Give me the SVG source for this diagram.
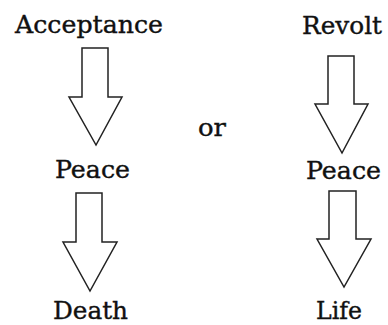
<svg xmlns="http://www.w3.org/2000/svg" width="388" height="325" viewBox="0 0 388 325">
<style>
.t{font-family:"DejaVu Serif","Liberation Serif",serif;font-size:25px;fill:#111;stroke:#111;stroke-width:0.4;}
.a{fill:#fff;stroke:#222;stroke-width:1.5;stroke-linejoin:miter;}
</style>
<rect width="388" height="325" fill="#fff"/>
<g id="connectors">
<polygon class="a" points="82,48 108,48 108,97 122,97 96,145 69,97 82,97"/>
<polygon class="a" points="76,193 102,193 102,242 117,242 90,291 63,242 76,242"/>
<polygon class="a" points="328,56 354,56 354,104 368,104 342,153 315,104 328,104"/>
<polygon class="a" points="329,191 356,191 356,239 371,239 344,287 317,239 329,239"/>
</g>
<g id="acceptance"><text class="t" x="15" y="33" textLength="148" lengthAdjust="spacingAndGlyphs">Acceptance</text></g>
<g id="peace-left"><text class="t" x="55" y="178" textLength="75" lengthAdjust="spacingAndGlyphs">Peace</text></g>
<g id="death"><text class="t" x="53" y="319" textLength="75" lengthAdjust="spacingAndGlyphs">Death</text></g>
<g id="or"><text class="t" x="198" y="136" textLength="28" lengthAdjust="spacingAndGlyphs">or</text></g>
<g id="revolt"><text class="t" x="302" y="34" textLength="80" lengthAdjust="spacingAndGlyphs">Revolt</text></g>
<g id="peace-right"><text class="t" x="306" y="179" textLength="75" lengthAdjust="spacingAndGlyphs">Peace</text></g>
<g id="life"><text class="t" x="316" y="319" textLength="46" lengthAdjust="spacingAndGlyphs">Life</text></g>
</svg>
